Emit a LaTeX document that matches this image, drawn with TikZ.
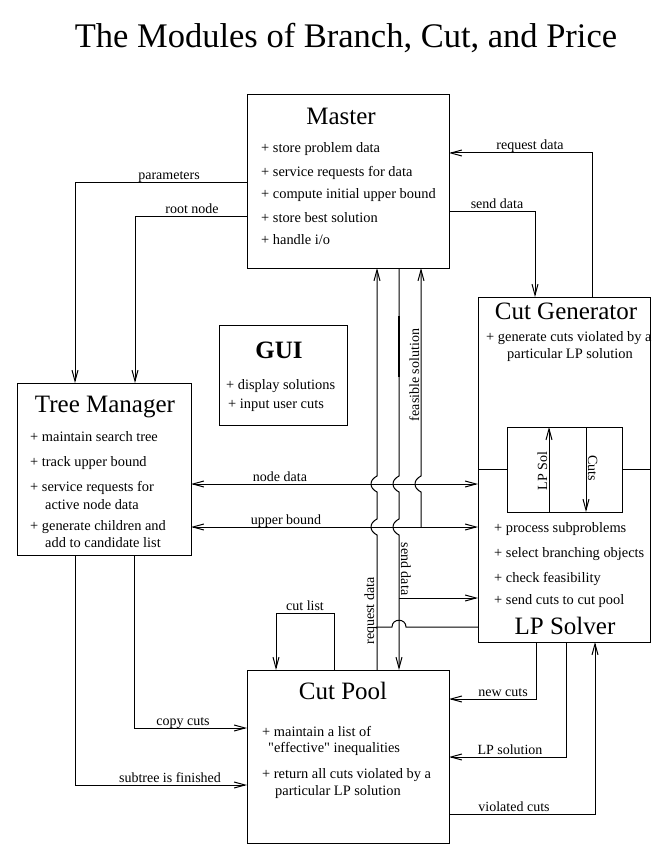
\documentclass[tikz,border=0pt]{standalone}
\usepackage{fontspec}
\setmainfont{Liberation Serif}
\usetikzlibrary{arrows.meta}
\begin{document}
\begin{tikzpicture}[x=1pt,y=-1pt,
  box/.style={draw,line width=1pt,inner sep=0pt,outer sep=0pt},
  ttl/.style={font=\fontsize{25}{25}\selectfont,anchor=base,inner sep=0pt},
  itm/.style={font=\fontsize{14.4}{14.4}\selectfont,anchor=base west,inner sep=0pt},
  lbl/.style={font=\fontsize{14}{14}\selectfont,anchor=base,inner sep=0pt},
  conn/.style={line width=1pt},
  arr/.style={conn,-{Straight Barb[length=11pt,width=6pt]}},
  darr/.style={conn,{Straight Barb[length=11pt,width=6pt]}-{Straight Barb[length=11pt,width=6pt]}}]
\fill[white] (0,0) rectangle (671,861);
\useasboundingbox (0,0) rectangle (671,861);

% title
\node[anchor=base,inner sep=0pt,font=\fontsize{34.5}{40}\selectfont] (title) at (346,48) {The Modules of Branch, Cut, and Price};

% boxes
\node[box,minimum width=202pt,minimum height=173pt] (master) at (348,181.5) {};
\node[box,minimum width=174pt,minimum height=172pt] (tm) at (104,469) {};
\node[box,minimum width=128pt,minimum height=100pt] (gui) at (283,375) {};
\node[box,minimum width=172pt,minimum height=345pt] (cg) at (564,469.5) {};
\node[box,minimum width=115pt,minimum height=85pt] (inner) at (564.5,469.5) {};
\node[box,minimum width=202pt,minimum height=173pt] (cp) at (348,756.5) {};

% Master text
\node[ttl] (mt) at (341,125) {Master};
\node[itm] (m1) at (261,153) {+ store problem data};
\node[itm] (m2) at (261,176) {+ service requests for data};
\node[itm] (m3) at (261,198) {+ compute initial upper bound};
\node[itm] (m4) at (261,222) {+ store best solution};
\node[itm] (m5) at (261,244) {+ handle i/o};

% Tree Manager text
\node[ttl] (tt) at (105,412) {Tree Manager};
\node[itm] (t1) at (30,441) {+ maintain search tree};
\node[itm] (t2) at (30,466) {+ track upper bound};
\node[itm] (t3) at (30,491) {+ service requests for};
\node[itm] (t4) at (45,509) {active node data};
\node[itm] (t5) at (30,530) {+ generate children and};
\node[itm] (t6) at (45,547) {add to candidate list};

% GUI text
\node[ttl,font=\bfseries\fontsize{25}{25}\selectfont] (gt) at (279,358) {GUI};
\node[itm] (g1) at (226,389) {+ display solutions};
\node[itm] (g2) at (228,408) {+ input user cuts};

% Cut Generator / LP Solver text
\node[ttl] (ct) at (566,319) {Cut Generator};
\node[itm] (c1) at (486,341) {+ generate cuts violated by a};
\node[itm] (c2) at (507,358) {particular LP solution};
\node[itm] (l1) at (494,532) {+ process subproblems};
\node[itm] (l2) at (494,557) {+ select branching objects};
\node[itm] (l3) at (494,582) {+ check feasibility};
\node[itm] (l4) at (494,604) {+ send cuts to cut pool};
\node[ttl] (lt) at (565,634) {LP Solver};

% Cut Pool text
\node[ttl] (pt) at (343,699) {Cut Pool};
\node[itm] (p1) at (262,736) {+ maintain a list of};
\node[itm] (p2) at (268,752) {\textquotedbl effective\textquotedbl\ inequalities};
\node[itm] (p3) at (262,778) {+ return all cuts violated by a};
\node[itm] (p4) at (275,795) {particular LP solution};

% inner divider
\draw[conn] (cg.west |- 0,469) -- (inner.west |- 0,469);
\draw[conn] (inner.east |- 0,469) -- (cg.east |- 0,469);
\draw[arr] (inner.south -| 549,0) -- (inner.north -| 549,0);
\draw[arr] (inner.north -| 586,0) -- (inner.south -| 586,0);
\node[lbl,rotate=90] (lps) at (547,471) {LP Sol};
\node[lbl,rotate=-90] (cuts) at (588,468) {Cuts};

% Master <-> Tree Manager
\draw[arr] (master.west |- 0,182) -| (tm.north -| 75,0);
\node[lbl] (lpar) at (169,179) {parameters};
\draw[arr] (master.west |- 0,216) -| (tm.north -| 135,0);
\node[lbl] (lroot) at (192,213) {root node};

% Master <-> Cut Generator
\draw[arr] (master.east |- 0,211) -| (cg.north -| 535,0);
\node[lbl] (lsend) at (497,208) {send data};
\draw[arr] (cg.north -| 592,0) |- (master.east |- 0,153);
\node[lbl] (lreq) at (530,150) {request data};

% Tree Manager <-> LP Solver
\draw[darr] (tm.east |- 0,484) -- (cg.west |- 0,484);
\node[lbl] (lnode) at (280,481) {node data};
\draw[darr] (tm.east |- 0,527) -- (cg.west |- 0,527);
\node[lbl] (lub) at (286,524) {upper bound};

% vertical lines between Master and Cut Pool
\coordinate (fsj) at (421,527);
\coordinate (sdj) at (399,598);
\coordinate (rqj) at (377,627);
\draw[arr] (cp.north -| 377,0) -- (377,535) .. controls (369,531) and (369,523) .. (377,519)
  -- (377,492) .. controls (369,488) and (369,480) .. (377,476) -- (master.south -| 377,0);
\draw[arr] (master.south -| 399,0) -- (399,476) .. controls (391,480) and (391,488) .. (399,492)
  -- (399,519) .. controls (391,523) and (391,531) .. (399,535) -- (cp.north -| 399,0);
\draw[line width=2pt] (399,316) -- (399,377);
\draw[arr] (fsj) -- (421,492) .. controls (413,488) and (413,480) .. (421,476) -- (master.south -| 421,0);
\node[lbl,rotate=90] (lfeas) at (419,375) {feasible solution};
\draw[arr] (sdj) -- (cg.west |- sdj);
\node[lbl,rotate=-90] (lsd2) at (401,569) {send data};
\draw[conn] (cg.west |- rqj) -- (406,627) .. controls (406,618) and (392,618) .. (392,627) -- (rqj);
\node[lbl,rotate=90] (lrq2) at (374,611) {request data};

% cut list loop
\draw[arr] (cp.north -| 334,0) -- (334,613) -- (276,613) -- (cp.north -| 276,0);
\node[lbl] (lcl) at (305,610) {cut list};

% Tree Manager -> Cut Pool
\draw[arr] (tm.south -| 134,0) |- (cp.west |- 0,728);
\node[lbl] (lcc) at (183,725) {copy cuts};
\draw[arr] (tm.south -| 75,0) |- (cp.west |- 0,785);
\node[lbl] (lsf) at (170,782) {subtree is finished};

% LP Solver <-> Cut Pool
\draw[arr] (cg.south -| 536,0) |- (cp.east |- 0,699);
\node[lbl] (lnc) at (503,696) {new cuts};
\draw[arr] (cg.south -| 566,0) |- (cp.east |- 0,757);
\node[lbl] (llps) at (510,754) {LP solution};
\draw[arr] (cp.east |- 0,814) -| (cg.south -| 595,0);
\node[lbl] (lvc) at (514,811) {violated cuts};
\end{tikzpicture}
\end{document}
